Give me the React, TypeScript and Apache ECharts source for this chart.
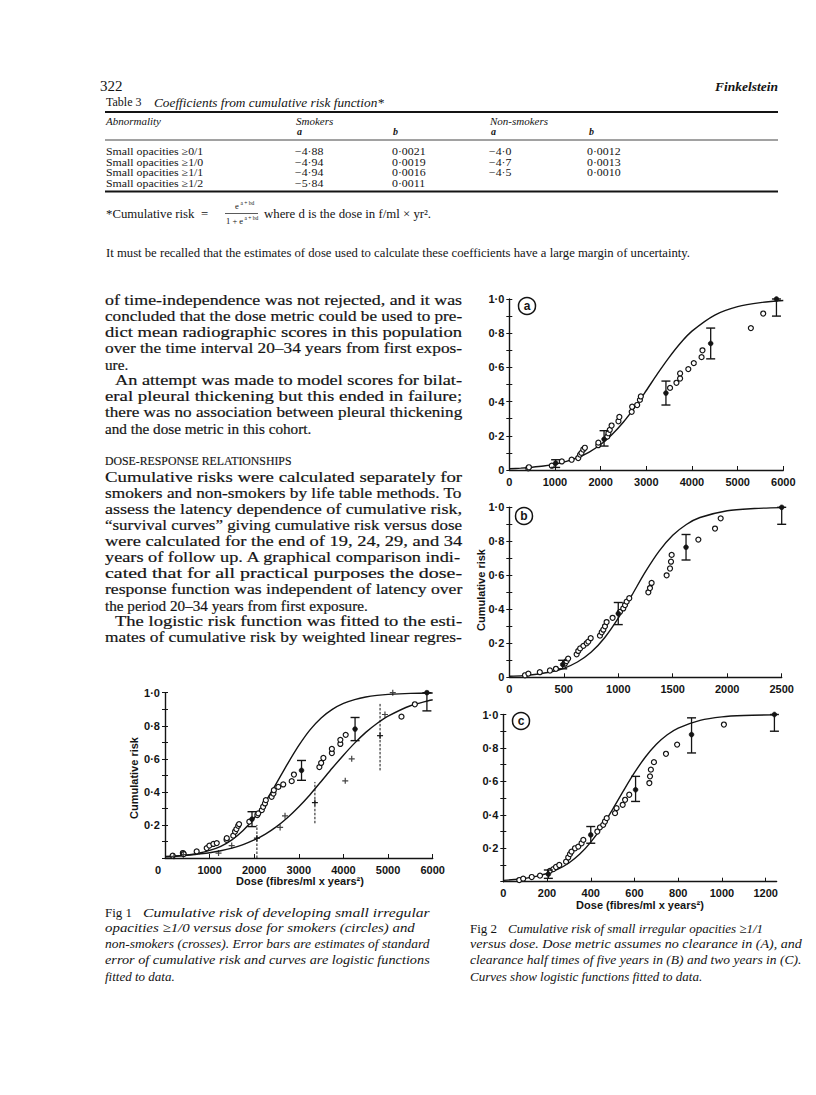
import React, { useEffect, useRef } from "react";
import * as echarts from "echarts";

const W = 816;
const H = 1095;

// ---------------- Table 3 ----------------
const tableRows = ["Small opacities \u22650/1", "Small opacities \u22651/0", "Small opacities \u22651/1", "Small opacities \u22651/2"];
const smokersA = ["\u22124\u00b788", "\u22124\u00b794", "\u22124\u00b794", "\u22125\u00b784"];
const smokersB = ["0\u00b70021", "0\u00b70019", "0\u00b70016", "0\u00b70011"];
const nonSmokersA = ["\u22124\u00b70", "\u22124\u00b77", "\u22124\u00b75", ""];
const nonSmokersB = ["0\u00b70012", "0\u00b70013", "0\u00b70010", ""];

// ---------------- Body text ----------------
const bodyLines: [string, boolean, boolean][] = [
  // text, justify, indent
  ["of time-independence was not rejected, and it was", true, false],
  ["concluded that the dose metric could be used to pre-", true, false],
  ["dict mean radiographic scores in this population", true, false],
  ["over the time interval 20\u201334 years from first expos-", true, false],
  ["ure.", false, false],
  ["An attempt was made to model scores for bilat-", true, true],
  ["eral pleural thickening but this ended in failure;", true, false],
  ["there was no association between pleural thickening", true, false],
  ["and the dose metric in this cohort.", false, false],
];
const bodyLines2: [string, boolean, boolean][] = [
  ["Cumulative risks were calculated separately for", true, false],
  ["smokers and non-smokers by life table methods. To", true, false],
  ["assess the latency dependence of cumulative risk,", true, false],
  ["\u201csurvival curves\u201d giving cumulative risk versus dose", true, false],
  ["were calculated for the end of 19, 24, 29, and 34", true, false],
  ["years of follow up. A graphical comparison indi-", true, false],
  ["cated that for all practical purposes the dose-", true, false],
  ["response function was independent of latency over", true, false],
  ["the period 20\u201334 years from first exposure.", false, false],
  ["The logistic risk function was fitted to the esti-", true, true],
  ["mates of cumulative risk by weighted linear regres-", true, false],
];
const fig1Caption = [
  "Cumulative risk of developing small irregular",
  "opacities \u22651/0 versus dose for smokers (circles) and",
  "non-smokers (crosses). Error bars are estimates of standard",
  "error of cumulative risk and curves are logistic functions",
  "fitted to data.",
];
const fig2Caption = [
  "Cumulative risk of small irregular opacities \u22651/1",
  "versus dose. Dose metric assumes no clearance in (A), and",
  "clearance half times of five years in (B) and two years in (C).",
  "Curves show logistic functions fitted to data.",
];

// ---------------- Fig 1 ----------------
const fig1CurveX = [0, 250, 500, 750, 1000, 1250, 1500, 1750, 2000, 2250, 2500, 2750, 3000, 3250, 3500, 3750, 4000, 4250, 4500, 4750, 5000, 5500, 6000];
const fig1SmokerCurve = [0.007, 0.011, 0.018, 0.029, 0.046, 0.071, 0.11, 0.166, 0.242, 0.34, 0.453, 0.571, 0.681, 0.775, 0.847, 0.899, 0.935, 0.958, 0.974, 0.984, 0.99, 0.996, 0.998];
const fig1NonSmokerCurve = [0.009, 0.012, 0.017, 0.024, 0.032, 0.044, 0.06, 0.081, 0.109, 0.145, 0.19, 0.245, 0.31, 0.383, 0.463, 0.544, 0.622, 0.695, 0.76, 0.814, 0.858, 0.921, 0.957];
const fig1Smokers: [number, number][] = [
  [172, 0.014], [400, 0.03], [420, 0.024], [710, 0.04], [935, 0.06], [995, 0.075], [1085, 0.085], [1160, 0.09],
  [1380, 0.11], [1385, 0.12], [1530, 0.135], [1570, 0.16], [1600, 0.175], [1640, 0.195], [1660, 0.205],
  [1890, 0.22], [2070, 0.26], [2090, 0.27], [2170, 0.29], [2200, 0.31], [2240, 0.33], [2260, 0.35],
  [2390, 0.37], [2430, 0.39], [2440, 0.41], [2540, 0.43], [2650, 0.445], [2840, 0.465], [2890, 0.505],
  [3460, 0.55], [3500, 0.575], [3550, 0.605], [3740, 0.635], [3740, 0.66], [3930, 0.69], [3930, 0.715],
  [4050, 0.745], [5300, 0.855], [5600, 0.93],
];
// x, centre, low, high
const fig1SmokerErr: [number, number, number, number][] = [
  [1950, 0.235, 0.19, 0.28], [3060, 0.53, 0.47, 0.59], [4260, 0.78, 0.71, 0.85], [5870, 1.0, 0.89, 1.0],
];
const fig1NonSmokers: [number, number][] = [
  [200, 0.01], [410, 0.02], [1200, 0.03], [1495, 0.075], [2580, 0.185], [2690, 0.255],
  [4040, 0.467], [4185, 0.6], [4930, 0.868], [5105, 1.0],
];
const fig1NonSmokerErr: [number, number, number, number][] = [
  [2060, 0.12, 0.0, 0.2], [3360, 0.335, 0.21, 0.46], [4820, 0.74, 0.53, 0.94],
];

// ---------------- Fig 2a ----------------
const fig2aCurveX = [0, 250, 500, 750, 1000, 1250, 1500, 1750, 2000, 2250, 2500, 2750, 3000, 3250, 3500, 3750, 4000, 4500, 5000, 5500, 6000];
const fig2aCurve = [0.007, 0.011, 0.016, 0.023, 0.034, 0.05, 0.073, 0.105, 0.149, 0.208, 0.281, 0.368, 0.465, 0.565, 0.659, 0.743, 0.812, 0.906, 0.955, 0.979, 0.991];
const fig2aPoints: [number, number][] = [
  [415, 0.01], [430, 0.016], [930, 0.025], [1150, 0.05], [1365, 0.06], [1510, 0.07], [1550, 0.09], [1580, 0.1],
  [1620, 0.12], [1655, 0.13], [1950, 0.145], [1950, 0.16], [2145, 0.195], [2170, 0.215], [2200, 0.235],
  [2240, 0.26], [2390, 0.285], [2410, 0.31], [2680, 0.34], [2690, 0.37], [2800, 0.38], [2860, 0.41],
  [2880, 0.43], [3520, 0.48], [3660, 0.51], [3740, 0.535], [3740, 0.565], [3920, 0.59], [4040, 0.625],
  [4210, 0.66], [4230, 0.7], [5290, 0.83], [5560, 0.915],
];
const fig2aErr: [number, number, number, number][] = [
  [1015, 0.04, 0.015, 0.06], [2075, 0.18, 0.14, 0.23], [3430, 0.45, 0.38, 0.52], [4410, 0.74, 0.65, 0.83], [5850, 1.0, 0.9, 1.0],
];

// ---------------- Fig 2b ----------------
const fig2bCurveX = [0, 125, 250, 375, 500, 625, 750, 875, 1000, 1125, 1250, 1375, 1500, 1625, 1750, 2000, 2250, 2500];
const fig2bCurve = [0.006, 0.01, 0.018, 0.031, 0.053, 0.09, 0.147, 0.233, 0.348, 0.483, 0.621, 0.742, 0.835, 0.899, 0.94, 0.98, 0.993, 0.998];
const fig2bPoints: [number, number][] = [
  [144, 0.012], [175, 0.022], [280, 0.03], [373, 0.04], [428, 0.05], [510, 0.08], [525, 0.095], [540, 0.11],
  [618, 0.135], [633, 0.155], [650, 0.17], [680, 0.185], [710, 0.2], [725, 0.21], [747, 0.23], [832, 0.245],
  [848, 0.265], [863, 0.28], [878, 0.3], [893, 0.325], [948, 0.35], [1016, 0.385], [1046, 0.405],
  [1062, 0.425], [1077, 0.445], [1101, 0.465], [1276, 0.5], [1291, 0.525], [1306, 0.555], [1444, 0.6],
  [1475, 0.64], [1484, 0.68], [1490, 0.72], [1735, 0.81], [1888, 0.875], [1940, 0.935],
];
const fig2bErr: [number, number, number, number][] = [
  [490, 0.075, 0.05, 0.1], [1000, 0.375, 0.31, 0.44], [1622, 0.765, 0.69, 0.84], [2500, 1.0, 0.9, 1.0],
];

// ---------------- Fig 2c ----------------
const fig2cCurveX = [0, 50, 100, 150, 200, 250, 300, 350, 400, 450, 500, 550, 600, 650, 700, 750, 800, 900, 1000, 1100, 1240];
const fig2cCurve = [0.008, 0.013, 0.02, 0.032, 0.049, 0.075, 0.112, 0.165, 0.237, 0.327, 0.433, 0.545, 0.652, 0.746, 0.822, 0.879, 0.919, 0.965, 0.986, 0.994, 0.998];
const fig2cPoints: [number, number][] = [
  [73, 0.01], [91, 0.018], [130, 0.028], [168, 0.036], [213, 0.065], [229, 0.075], [241, 0.088], [256, 0.1],
  [287, 0.12], [297, 0.145], [305, 0.165], [312, 0.18], [328, 0.2], [343, 0.21], [358, 0.23], [366, 0.25],
  [430, 0.3], [442, 0.325], [457, 0.34], [465, 0.36], [473, 0.38], [511, 0.41], [518, 0.44], [546, 0.46],
  [557, 0.49], [576, 0.52], [668, 0.59], [671, 0.63], [675, 0.67], [689, 0.715], [744, 0.765], [795, 0.82],
  [1009, 0.94],
];
const fig2cErr: [number, number, number, number][] = [
  [206, 0.045, 0.02, 0.07], [400, 0.28, 0.23, 0.33], [605, 0.55, 0.48, 0.63], [861, 0.88, 0.77, 0.98], [1240, 1.0, 0.9, 1.0],
];

const SERIF = '"Liberation Serif", "Times New Roman", serif';
const SANS = '"Liberation Sans", Arial, sans-serif';
const INK = "#141414";

type FontOpt = { size: number; style?: string; weight?: string | number; family?: string; heavy?: number };

export default function App() {
  const ref = useRef<HTMLDivElement>(null);

  useEffect(() => {
    if (!ref.current) return;
    const chart = echarts.init(ref.current, null, { renderer: "svg", width: W, height: H });
    const ctx = document.createElement("canvas").getContext("2d")!;
    const measure = (t: string, o: FontOpt) => {
      ctx.font = `${o.style || "normal"} ${o.weight || "normal"} ${o.size}px ${o.family || SERIF}`;
      return ctx.measureText(t).width;
    };
    const txt = (t: string, x: number, y: number, o: FontOpt, extra: any = {}) => {
      const style: any = {
        text: t,
        fontSize: o.size,
        fontFamily: o.family || SERIF,
        fontStyle: o.style || "normal",
        fontWeight: o.weight || "normal",
        fill: INK,
        align: extra.align || "left",
        verticalAlign: "middle",
      };
      if (o.heavy) {
        style.stroke = INK;
        style.lineWidth = o.heavy;
      }
      return { type: "text", x, y, silent: true, ...extra, style };
    };
    const jline = (t: string, x: number, y: number, width: number | null, o: FontOpt) => {
      if (!width) return txt(t, x, y, o);
      const w = measure(t, o);
      return txt(t, x, y, o, { scaleX: width / w });
    };
    const hline = (x1: number, x2: number, y: number, lw: number) => ({
      type: "line",
      silent: true,
      shape: { x1, y1: y, x2, y2: y },
      style: { stroke: INK, lineWidth: lw },
    });

    const graphics: any[] = [];
    // header
    graphics.push(txt("322", 100, 86, { size: 15 }));
    graphics.push(txt("Finkelstein", 778, 86, { size: 13.5, style: "italic", weight: "bold" }, { align: "right" }));
    graphics.push(txt("Table 3", 106, 102, { size: 12 }));
    graphics.push(txt("Coefficients from cumulative risk function*", 154, 102, { size: 13.3, style: "italic" }));
    graphics.push(hline(105, 778, 112, 2));
    graphics.push(txt("Abnormality", 106, 121, { size: 11, style: "italic" }));
    graphics.push(txt("Smokers", 296, 121, { size: 11, style: "italic" }));
    graphics.push(txt("Non-smokers", 490, 121, { size: 11, style: "italic" }));
    graphics.push(txt("a", 297, 131, { size: 10, style: "italic", weight: "bold" }));
    graphics.push(txt("b", 393, 131, { size: 10, style: "italic", weight: "bold" }));
    graphics.push(txt("a", 491, 131, { size: 10, style: "italic", weight: "bold" }));
    graphics.push(txt("b", 589, 131, { size: 10, style: "italic", weight: "bold" }));
    graphics.push(hline(105, 778, 140, 0.8));
    const rowFont: FontOpt = { size: 10.4 };
    const rowScale = { scaleX: 1.14 };
    tableRows.forEach((r, i) => {
      const y = 151 + i * 10.8;
      graphics.push(txt(r, 106, y, rowFont, rowScale));
      graphics.push(txt(smokersA[i], 295, y, rowFont, rowScale));
      graphics.push(txt(smokersB[i], 392, y, rowFont, rowScale));
      if (nonSmokersA[i]) graphics.push(txt(nonSmokersA[i], 489, y, rowFont, rowScale));
      if (nonSmokersB[i]) graphics.push(txt(nonSmokersB[i], 587, y, rowFont, rowScale));
    });
    graphics.push(hline(105, 778, 191.5, 2));
    // footnote
    graphics.push(txt("*Cumulative risk  =", 106, 214, { size: 12.8 }));
    graphics.push(txt("e", 235, 206, { size: 8.5 }));
    graphics.push(txt("a + bd", 240.5, 203, { size: 5.5 }));
    graphics.push(hline(225, 258, 213.5, 0.7));
    graphics.push(txt("1 + e", 226, 221, { size: 8.5 }));
    graphics.push(txt("a + bd", 244.5, 218, { size: 5.5 }));
    graphics.push(txt("where d is the dose in f/ml \u00d7 yr\u00b2.", 264, 214, { size: 12.8 }));
    graphics.push(txt("It must be recalled that the estimates of dose used to calculate these coefficients have a large margin of uncertainty.", 106, 253, { size: 12.7 }));

    // body text
    const bodyFont: FontOpt = { size: 15.2, heavy: 0.2 };
    const colL = 105;
    const colR = 462;
    bodyLines.forEach(([t, j, ind], i) => {
      const x = colL + (ind ? 10 : 0);
      graphics.push(jline(t, x, 300 + i * 16, j ? colR - x : null, bodyFont));
    });
    graphics.push(txt("DOSE-RESPONSE RELATIONSHIPS", colL, 461, { size: 11.8, heavy: 0.15 }));
    bodyLines2.forEach(([t, j, ind], i) => {
      const x = colL + (ind ? 10 : 0);
      graphics.push(jline(t, x, 477 + i * 16, j ? colR - x : null, bodyFont));
    });

    // captions
    const capFont: FontOpt = { size: 13, style: "italic" };
    graphics.push(txt("Fig 1", 105, 912, { size: 13 }));
    const cap1Width = [430, 415, 430, 430, null];
    fig1Caption.forEach((t, i) => {
      const x = i === 0 ? 143 : 105;
      const r = cap1Width[i];
      graphics.push(jline(t, x, 912 + i * 16, r ? r - x : null, capFont));
    });
    graphics.push(txt("Fig 2", 470, 928, { size: 13 }));
    const cap2Width = [null, 802, 802, null];
    fig2Caption.forEach((t, i) => {
      const x = i === 0 ? 508 : 470;
      const r = cap2Width[i];
      graphics.push(jline(t, x, 928 + i * 16, r ? r - x : null, capFont));
    });

    // axis titles
    const axisTitleFont: FontOpt = { size: 11, family: SANS, weight: "bold" };
    graphics.push(txt("Cumulative risk", 134, 778, axisTitleFont, { rotation: Math.PI / 2, align: "center" }));
    graphics.push(txt("Cumulative risk", 481, 590, axisTitleFont, { rotation: Math.PI / 2, align: "center" }));
    graphics.push(txt("Dose (fibres/ml x years\u00b2)", 300, 881, axisTitleFont, { align: "center" }));
    graphics.push(txt("Dose (fibres/ml x years\u00b2)", 640, 905, axisTitleFont, { align: "center" }));

    // circled letters
    const letters: [string, number, number][] = [["a", 527, 306], ["b", 524, 516], ["c", 521, 721]];
    letters.forEach(([l, cx, cy]) => {
      graphics.push({ type: "circle", silent: true, shape: { cx, cy, r: 8.5 }, style: { fill: "#fff", stroke: INK, lineWidth: 1.5 } });
      graphics.push(txt(l, cx, cy, { size: 12, family: SANS, weight: "bold" }, { align: "center" }));
    });

    // ---------------- charts ----------------
    const grids = [
      { left: 165, top: 692.7, width: 267.7, height: 165.3 },
      { left: 509.3, top: 299, width: 274, height: 171 },
      { left: 509.3, top: 507.3, width: 272.4, height: 170 },
      { left: 503.3, top: 714.5, width: 273.3, height: 167.2 },
    ];
    const xCfg = [
      { max: 6000, interval: 1000 },
      { max: 6000, interval: 1000 },
      { max: 2500, interval: 500 },
      { max: 1250, interval: 200 },
    ];
    const showYZero = [false, true, true, false];
    const labelStyle = { fontSize: 11, fontWeight: "bold", fontFamily: SANS, color: INK };
    const axisLine = { show: true, lineStyle: { color: INK, width: 1.4 } };

    const xAxis = xCfg.map((c, gi) => ({
      gridIndex: gi,
      type: "value",
      min: 0,
      max: c.max,
      interval: c.interval,
      axisLine: { ...axisLine, onZero: false },
      axisTick: { show: true, inside: true, length: 4, lineStyle: { color: INK, width: 1 } },
      splitLine: { show: false },
      axisLabel: {
        ...labelStyle,
        margin: 6,
        showMaxLabel: gi !== 3,
        formatter: (v: number) => (gi === 0 && v === 0 ? "{z|0}" : String(v)),
        rich: { z: { ...labelStyle, padding: [0, 14, 0, 0] } },
      },
    }));
    const yAxis: any[] = [];
    grids.forEach((_, gi) => {
      yAxis.push({
        gridIndex: gi,
        type: "value",
        min: 0,
        max: 1,
        interval: 0.2,
        axisLine,
        axisTick: { show: true, length: 3, lineStyle: { color: INK, width: 1 } },
        minorTick: { show: true, splitNumber: 2, length: 3, lineStyle: { color: INK, width: 1 } },
        splitLine: { show: false },
        axisLabel: {
          ...labelStyle,
          margin: 5,
          formatter: (v: number) => (v === 0 ? (showYZero[gi] ? "0" : "") : v.toFixed(1).replace(".", "\u00b7")),
        },
      });
      yAxis.push({
        gridIndex: gi,
        type: "value",
        min: 0,
        max: 1,
        interval: 0.1,
        position: "left",
        axisLine: { show: false },
        axisTick: { show: true, inside: true, length: 3, lineStyle: { color: INK, width: 1 } },
        axisLabel: { show: false },
        splitLine: { show: false },
      });
    });

    const curve = (gi: number, xs: number[], ys: number[]) => ({
      type: "line",
      xAxisIndex: gi,
      yAxisIndex: gi * 2,
      data: xs.map((x, i) => [x, ys[i]]),
      smooth: 0.3,
      showSymbol: false,
      symbol: "none",
      silent: true,
      lineStyle: { color: INK, width: 1.4 },
      z: 2,
    });
    const circles = (gi: number, pts: [number, number][]) => ({
      type: "scatter",
      xAxisIndex: gi,
      yAxisIndex: gi * 2,
      data: pts,
      symbol: "circle",
      symbolSize: 5,
      silent: true,
      clip: false,
      itemStyle: { color: "#fff", borderColor: INK, borderWidth: 1.2, opacity: 1 },
      z: 3,
    });
    const PLUS = "path://M4,0h2v4h4v2h-4v4h-2v-4h-4v-2h4z";
    const crosses = (gi: number, pts: [number, number][]) => ({
      type: "scatter",
      xAxisIndex: gi,
      yAxisIndex: gi * 2,
      data: pts,
      symbol: PLUS,
      symbolSize: 6,
      silent: true,
      clip: false,
      itemStyle: { color: INK },
      z: 3,
    });
    const errBars = (gi: number, data: [number, number, number, number][], dashed: boolean) => ({
      type: "custom",
      xAxisIndex: gi,
      yAxisIndex: gi * 2,
      data,
      clip: false,
      silent: true,
      encode: { x: 0, y: 1 },
      z: 4,
      renderItem: (_p: any, api: any) => {
        const x = api.value(0);
        const c = api.coord([x, api.value(1)]);
        const lo = api.coord([x, api.value(2)]);
        const hi = api.coord([x, api.value(3)]);
        const children: any[] = [
          {
            type: "line",
            shape: { x1: lo[0], y1: lo[1], x2: hi[0], y2: hi[1] },
            style: { stroke: INK, lineWidth: dashed ? 1 : 1.3, lineDash: dashed ? [2.5, 1.5] : null },
          },
        ];
        if (!dashed) {
          const cap = 4.5;
          children.push({ type: "line", shape: { x1: lo[0] - cap, y1: lo[1], x2: lo[0] + cap, y2: lo[1] }, style: { stroke: INK, lineWidth: 1.4 } });
          children.push({ type: "line", shape: { x1: hi[0] - cap, y1: hi[1], x2: hi[0] + cap, y2: hi[1] }, style: { stroke: INK, lineWidth: 1.4 } });
          children.push({ type: "circle", shape: { cx: c[0], cy: c[1], r: 2.4 }, style: { fill: INK, stroke: INK, lineWidth: 0.6 } });
        } else {
          children.push({ type: "line", shape: { x1: c[0] - 3, y1: c[1], x2: c[0] + 3, y2: c[1] }, style: { stroke: INK, lineWidth: 1.2 } });
          children.push({ type: "line", shape: { x1: c[0], y1: c[1] - 3, x2: c[0], y2: c[1] + 3 }, style: { stroke: INK, lineWidth: 1.2 } });
        }
        return { type: "group", children };
      },
    });

    const series: any[] = [
      curve(0, fig1CurveX, fig1SmokerCurve),
      curve(0, fig1CurveX, fig1NonSmokerCurve),
      circles(0, fig1Smokers),
      crosses(0, fig1NonSmokers),
      errBars(0, fig1SmokerErr, false),
      errBars(0, fig1NonSmokerErr, true),
      curve(1, fig2aCurveX, fig2aCurve),
      circles(1, fig2aPoints),
      errBars(1, fig2aErr, false),
      curve(2, fig2bCurveX, fig2bCurve),
      circles(2, fig2bPoints),
      errBars(2, fig2bErr, false),
      curve(3, fig2cCurveX, fig2cCurve),
      circles(3, fig2cPoints),
      errBars(3, fig2cErr, false),
    ];

    chart.setOption({
      animation: false,
      backgroundColor: "#fff",
      grid: grids.map((g) => ({ ...g, containLabel: false })),
      xAxis,
      yAxis,
      series,
      graphic: { elements: graphics },
    });
    return () => chart.dispose();
  }, []);

  return <div ref={ref} style={{ position: "absolute", left: 0, top: 0, width: W, height: H, background: "#fff" }} />;
}
